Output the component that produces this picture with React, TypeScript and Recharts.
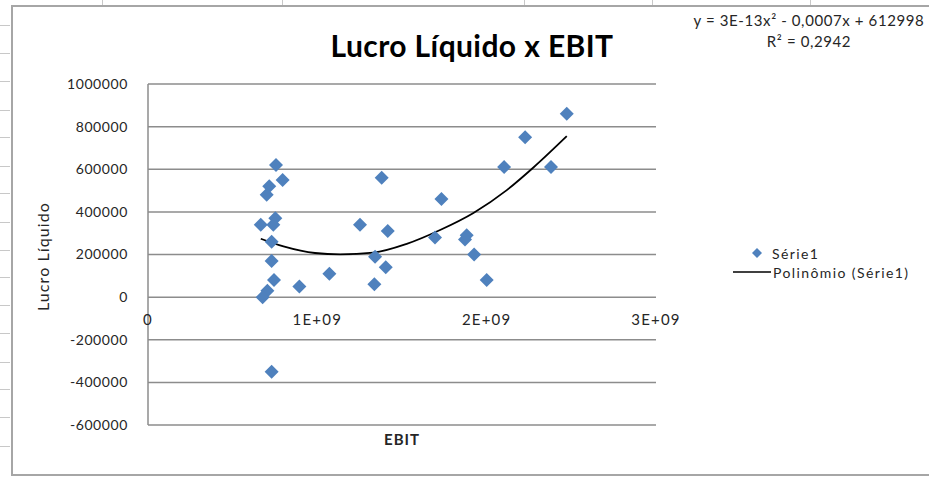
import React from 'react';
import {
  ComposedChart,
  Scatter,
  Line,
  XAxis,
  YAxis,
  CartesianGrid,
  ReferenceDot,
  Legend,
} from 'recharts';

// EBIT values (x) and Lucro Líquido values (y) for Série1
const ebitValues = [
  666e6, 756e6, 795e6, 716e6, 701e6, 752e6, 740e6, 730e6, 730e6, 744e6,
  705e6, 677e6, 730e6, 894e6, 1071e6, 1252e6, 1380e6, 1341e6, 1337e6, 1416e6,
  1404e6, 1695e6, 1733e6, 1882e6, 1872e6, 1926e6, 2000e6, 2103e6, 2227e6, 2380e6,
  2473e6,
];
const lucroValues = [
  340000, 620000, 550000, 520000, 480000, 370000, 340000, 260000, 170000, 80000,
  30000, 0, -350000, 50000, 110000, 340000, 560000, 190000, 60000, 310000,
  140000, 280000, 460000, 290000, 270000, 200000, 80000, 610000, 750000, 610000,
  860000,
];

// Polynomial trend line
const trendX = [666e6, 800e6, 986e6, 1134e6, 1331e6, 1528e6, 1725e6, 1922e6, 2119e6, 2276e6, 2473e6];
const trendY = [274000, 238000, 207000, 201000, 209000, 250000, 315000, 395000, 502000, 608000, 755000];

const yTicks = [-600000, -400000, -200000, 0, 200000, 400000, 600000, 800000, 1000000];
const xTicks = [0, 1e9, 2e9, 3e9];
const xTickLabels = ['0', '1E+09', '2E+09', '3E+09'];

const titleText = 'Lucro Líquido x EBIT';
const equationText = 'y = 3E-13x² - 0,0007x + 612998';
const r2Text = 'R² = 0,2942';
const seriesName = 'Série1';
const trendName = 'Polinômio (Série1)';

const points = ebitValues.map((x, i) => ({ x, y: lucroValues[i] }));
const trendPoints = trendX.map((x, i) => ({ x, y: trendY[i] }));

const FONT = "Lato, 'Open Sans', sans-serif";
const BLUE = '#4F81BD';
const GRID = '#8c8c8c';
const TEXT = '#262626';

const sheetCols = [102, 282, 524, 652, 810];
const sheetRows = [25, 53, 81, 110, 137, 166, 193, 222, 250, 277, 305, 333, 362, 389, 417, 446];

const Diamond = (props: any) => {
  const { cx, cy } = props;
  if (cx == null || cy == null) return null;
  const h = 7;
  return (
    <path
      d={`M${cx},${cy - h}L${cx + h},${cy}L${cx},${cy + h}L${cx - h},${cy}Z`}
      fill={BLUE}
    />
  );
};

const LegendContent = () => (
  <svg width={210} height={40} style={{ display: 'block' }}>
    <path d="M32,4L37,9L32,14L27,9Z" fill={BLUE} />
    <text x={47} y={9} dominantBaseline="central" fontSize={14} fontFamily={FONT} fill={TEXT} letterSpacing={1.4}>
      {seriesName}
    </text>
    <line x1={8} x2={46} y1={28} y2={28} stroke="#000" strokeWidth={1.5} />
    <text x={48} y={28} dominantBaseline="central" fontSize={14} fontFamily={FONT} fill={TEXT} letterSpacing={1.4}>
      {trendName}
    </text>
  </svg>
);

export default function App() {
  return (
    <div style={{ position: 'absolute', left: 0, top: 0, width: 929, height: 478, background: '#fff', overflow: 'hidden' }}>
      {sheetCols.map((x) => (
        <div key={'c' + x} style={{ position: 'absolute', left: x, top: 0, width: 1, height: 6, background: '#c8c8c8' }} />
      ))}
      {sheetRows.map((y) => (
        <div key={'r' + y} style={{ position: 'absolute', left: 0, top: y, width: 10, height: 1, background: '#c8c8c8' }} />
      ))}
      <div
        style={{
          position: 'absolute',
          left: 11,
          top: 5,
          width: 960,
          height: 467,
          border: '2px solid #a6a6a6',
          background: '#fff',
        }}
      />
      <div
        style={{
          position: 'absolute',
          left: 0,
          top: 27,
          width: 944,
          textAlign: 'center',
          fontFamily: FONT,
          fontWeight: 700,
          fontSize: 30,
          letterSpacing: 0.4,
          lineHeight: '36px',
          color: '#000',
        }}
      >
        {titleText}
      </div>
      <div
        style={{
          position: 'absolute',
          left: 659,
          top: 10,
          width: 300,
          textAlign: 'center',
          fontFamily: FONT,
          fontSize: 15,
          letterSpacing: 0.6,
          lineHeight: '21px',
          color: TEXT,
          whiteSpace: 'nowrap',
        }}
      >
        <div>{equationText}</div>
        <div>{r2Text}</div>
      </div>
      <div style={{ position: 'absolute', left: 0, top: 0 }}>
        <ComposedChart
          width={929}
          height={478}
          margin={{ top: 84, right: 273, bottom: 23, left: 68 }}
        >
          <CartesianGrid vertical={false} stroke={GRID} strokeWidth={1.5} />
          <XAxis
            type="number"
            dataKey="x"
            domain={[0, 3e9]}
            ticks={xTicks}
            allowDataOverflow
            tick={false}
            tickLine={false}
            axisLine={false}
            height={30}
            label={{ value: 'EBIT', position: 'center', fontSize: 15, letterSpacing: 1, fontWeight: 700, fontFamily: FONT, fill: TEXT }}
          />
          <YAxis
            type="number"
            dataKey="y"
            domain={[-600000, 1000000]}
            ticks={yTicks}
            interval={0}
            allowDataOverflow
            width={80}
            tickLine={false}
            tickSize={12}
            tickMargin={8}
            axisLine={{ stroke: GRID, strokeWidth: 1.5 }}
            tick={{ fill: TEXT, fontSize: 14, fontFamily: FONT, letterSpacing: 0.6 }}
            label={{ value: 'Lucro Líquido', angle: -90, position: 'center', dx: -65, dy: 2, fontSize: 16, letterSpacing: 1.1, fontFamily: FONT, fill: TEXT }}
          />
          {xTicks.map((t, i) => (
            <ReferenceDot
              key={'xt' + t}
              x={t}
              y={0}
              r={0}
              ifOverflow="visible"
              fill="none"
              stroke="none"
              label={{ value: xTickLabels[i], position: 'bottom', offset: 17, fontSize: 15, letterSpacing: 1.2, fontFamily: FONT, fill: TEXT }}
            />
          ))}
          <Scatter
            name={seriesName}
            data={points}
            dataKey="y"
            fill={BLUE}
            shape={Diamond}
            isAnimationActive={false}
          />
          <Line
            name={trendName}
            data={trendPoints}
            dataKey="y"
            type="monotone"
            stroke="#000"
            strokeWidth={1.8}
            dot={false}
            activeDot={false}
            isAnimationActive={false}
          />
          <Legend
            layout="horizontal"
            verticalAlign="middle"
            align="center"
            wrapperStyle={{ left: 725, top: 244, width: 210 }}
            content={LegendContent}
          />
        </ComposedChart>
      </div>
    </div>
  );
}
